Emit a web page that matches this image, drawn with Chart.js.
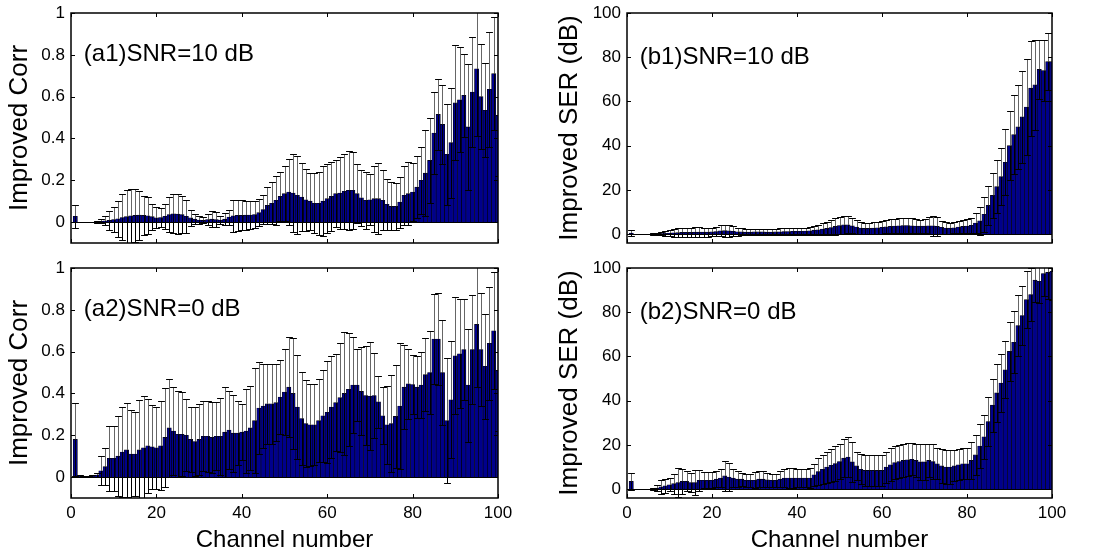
<!DOCTYPE html>
<html>
<head>
<meta charset="utf-8">
<script src="https://cdn.jsdelivr.net/npm/chart.js@4.4.1/dist/chart.umd.min.js"></script>
<style>
  html, body { margin: 0; padding: 0; background: #fff; }
  #wrap { position: relative; width: 1098px; height: 555px; }
  canvas { position: absolute; }
</style>
</head>
<body>
<div id="wrap">
  <canvas id="a1" width="549" height="250" style="left:0;top:0"></canvas>
  <canvas id="b1" width="549" height="250" style="left:549px;top:0"></canvas>
  <canvas id="a2" width="549" height="300" style="left:0;top:255px"></canvas>
  <canvas id="b2" width="549" height="300" style="left:549px;top:255px"></canvas>
</div>
<script>
// channel numbers 1..100 (categories)
const channels = Array.from({ length: 100 }, (_, i) => i + 1);
const xTicks = [0, 20, 40, 60, 80, 100];
const corrTicks = [0, 0.2, 0.4, 0.6, 0.8, 1];
const serTicks = [0, 20, 40, 60, 80, 100];

// (a1) improved Corr, SNR = 10 dB : mean and std per channel
const corr10Mean = [
  0.028, 0, 0, 0, 0, 0.002, 0.004, 0.006, 0.008, 0.012,
  0.016, 0.022, 0.026, 0.03, 0.032, 0.033, 0.032, 0.03, 0.026, 0.02,
  0.022, 0.028, 0.036, 0.04, 0.038, 0.036, 0.028, 0.02, 0.014, 0.01,
  0.008, 0.012, 0.014, 0.012, 0.01, 0.014, 0.024, 0.03, 0.032, 0.032,
  0.033, 0.034, 0.036, 0.045, 0.06, 0.08, 0.09, 0.104, 0.123, 0.136,
  0.144, 0.139, 0.128, 0.12, 0.107, 0.1, 0.09, 0.09, 0.1, 0.112,
  0.123, 0.136, 0.139, 0.147, 0.152, 0.152, 0.136, 0.116, 0.104, 0.107,
  0.112, 0.112, 0.104, 0.085, 0.075, 0.075, 0.096, 0.128, 0.136, 0.144,
  0.167, 0.2, 0.234, 0.295, 0.426, 0.515, 0.467, 0.324, 0.38, 0.57,
  0.585, 0.606, 0.455, 0.622, 0.733, 0.6, 0.535, 0.635, 0.71, 0.51
];
const corr10Std = [
  0.055, 0, 0, 0, 0, 0.004, 0.01, 0.022, 0.045, 0.06,
  0.087, 0.11, 0.128, 0.128, 0.125, 0.118, 0.092, 0.088, 0.062, 0.05,
  0.046, 0.06, 0.085, 0.094, 0.094, 0.09, 0.08, 0.04, 0.024, 0.018,
  0.014, 0.028, 0.038, 0.034, 0.02, 0.028, 0.036, 0.075, 0.076, 0.072,
  0.07, 0.066, 0.064, 0.066, 0.07, 0.087, 0.1, 0.116, 0.117, 0.13,
  0.156, 0.188, 0.186, 0.162, 0.148, 0.136, 0.144, 0.15, 0.166, 0.164,
  0.164, 0.159, 0.171, 0.18, 0.188, 0.183, 0.14, 0.134, 0.136, 0.121,
  0.158, 0.17, 0.143, 0.122, 0.115, 0.112, 0.122, 0.142, 0.151, 0.138,
  0.147, 0.16, 0.206, 0.205, 0.196, 0.171, 0.187, 0.242, 0.263, 0.275,
  0.252, 0.2, 0.3, 0.263, 0.32, 0.25, 0.225, 0.275, 0.27, 0.29
];

// (a2) improved Corr, SNR = 0 dB
const corr0Mean = [
  0.18, 0.005, 0.002, 0.003, 0.005, 0.01, 0.03, 0.05, 0.09, 0.09,
  0.1, 0.12, 0.13, 0.11, 0.11, 0.13, 0.14, 0.15, 0.145, 0.14,
  0.15, 0.19, 0.235, 0.22, 0.205, 0.205, 0.2, 0.18, 0.17, 0.18,
  0.195, 0.195, 0.19, 0.195, 0.195, 0.215, 0.225, 0.21, 0.21, 0.215,
  0.22, 0.235, 0.27, 0.33, 0.34, 0.35, 0.35, 0.356, 0.383, 0.407,
  0.43, 0.4, 0.335, 0.28, 0.256, 0.25, 0.25, 0.27, 0.293, 0.31,
  0.335, 0.356, 0.38, 0.4, 0.42, 0.44, 0.44, 0.41, 0.39, 0.387,
  0.39, 0.36, 0.293, 0.25, 0.256, 0.29, 0.34, 0.43, 0.446, 0.443,
  0.43, 0.44, 0.49, 0.5, 0.66, 0.66, 0.5, 0.27, 0.37, 0.58,
  0.59, 0.61, 0.44, 0.61, 0.73, 0.61, 0.53, 0.64, 0.7, 0.51
];
const corr0Std = [
  0.175, 0.003, 0.002, 0.003, 0.005, 0.008, 0.07, 0.09, 0.155, 0.155,
  0.19, 0.215, 0.225, 0.21, 0.2, 0.24, 0.247, 0.225, 0.202, 0.195,
  0.213, 0.235, 0.235, 0.21, 0.205, 0.2, 0.173, 0.155, 0.165, 0.17,
  0.168, 0.171, 0.17, 0.163, 0.185, 0.215, 0.185, 0.185, 0.153, 0.135,
  0.2, 0.2, 0.25, 0.22, 0.2, 0.19, 0.19, 0.184, 0.177, 0.207,
  0.238, 0.265, 0.25, 0.223, 0.206, 0.196, 0.193, 0.2, 0.221, 0.244,
  0.243, 0.233, 0.26, 0.296, 0.27, 0.23, 0.174, 0.21, 0.235, 0.257,
  0.203, 0.123, 0.137, 0.188, 0.234, 0.248, 0.3, 0.2, 0.168, 0.139,
  0.148, 0.157, 0.175, 0.2, 0.215, 0.22, 0.25, 0.3, 0.28, 0.28,
  0.26, 0.24, 0.27, 0.26, 0.3, 0.27, 0.25, 0.27, 0.28, 0.29
];

// (b1) improved SER (dB), SNR = 10 dB
const ser10Mean = [
  0.5, 0, 0, 0, 0, 0.1, 0.2, 0.3, 0.4, 0.5,
  0.6, 0.7, 0.8, 0.8, 0.8, 0.9, 0.9, 0.9, 0.9, 1,
  1.2, 1.5, 1.6, 1.5, 1.3, 1.1, 1, 0.9, 0.9, 1,
  1, 1, 0.9, 0.9, 1, 1.1, 1.2, 1.2, 1.3, 1.3,
  1.3, 1.4, 1.5, 1.8, 2, 2.3, 2.6, 3, 3.5, 3.9,
  4.2, 4.2, 3.8, 3.2, 2.8, 2.6, 2.6, 2.7, 2.9, 3.1,
  3.3, 3.5, 3.7, 3.8, 3.9, 3.9, 3.8, 3.7, 3.6, 3.6,
  3.8, 3.8, 3.5, 3.1, 2.8, 2.7, 2.9, 3.2, 3.5, 3.7,
  4, 5, 6, 9, 13, 17.5, 21.5, 26, 32.5, 40,
  45, 48.5, 53, 57.5, 66, 67.5, 74.5, 74, 78, 78
];
const ser10Std = [
  1.5, 0, 0, 0, 0, 0.3, 0.5, 0.8, 1.2, 1.5,
  1.8, 2, 2.1, 2.2, 2.2, 2.2, 2.2, 2.1, 2, 2,
  2.2, 2.5, 2.7, 2.6, 2.2, 1.8, 1.6, 1.4, 1.3, 1.4,
  1.5, 1.4, 1.3, 1.3, 1.4, 1.5, 1.6, 1.6, 1.7, 1.6,
  1.5, 1.6, 1.8, 2, 2.3, 2.6, 3, 3.3, 3.7, 3.9,
  4, 3.8, 3.5, 3, 2.6, 2.5, 2.5, 2.6, 2.7, 2.9,
  3, 3.2, 3.3, 3.4, 3.5, 3.4, 3.3, 3.1, 3, 3.1,
  3.8, 4.5, 4.3, 3, 2.6, 2.5, 2.6, 2.8, 3, 3.2,
  3.5, 4.5, 6.5, 8, 9, 10, 12, 13, 15, 15.5,
  18, 19, 21, 21.5, 21.5, 20.5, 13.5, 14, 13, 13
];

// (b2) improved SER (dB), SNR = 0 dB
const ser0Mean = [
  3.5, 0, 0, 0, 0, 0.2, 0.5, 1, 1.5, 2,
  2.5, 3, 3.5, 3.5, 3, 3, 4, 4, 4, 4,
  4.5, 5, 6, 5.5, 5, 4.5, 4.5, 4, 4, 4,
  4.5, 4.5, 4.2, 4, 4, 4.5, 5, 5, 5, 5,
  5, 5, 5, 6.5, 8, 9, 10, 10.8, 11.6, 12.5,
  14, 14.5, 12.3, 10.5, 9, 8.5, 8.5, 8.5, 8.5, 8.5,
  10, 11, 12, 12.5, 13, 13.3, 13.5, 13, 12.3, 12.3,
  13, 12.5, 11.5, 10.5, 10, 10, 10.5, 11, 11.5, 11.5,
  13, 15.5, 19.5, 23.7, 30.6, 38, 43.5, 48, 54, 62.3,
  66.4, 74, 78.5, 85.7, 88, 94.5, 94, 97.5, 98, 98.5
];
const ser0Std = [
  3.8, 0, 0, 0, 0, 0.5, 1.5, 3, 3.2, 3,
  4.5, 6.5, 5.5, 4.5, 4.5, 5.5, 4.8, 3.7, 3.7, 3.7,
  3.5, 4.2, 6.7, 6.3, 4, 3.5, 3, 3, 3, 3.7,
  3.5, 3.5, 3.2, 2.8, 2.8, 3.5, 4, 4.5, 4.5, 4,
  4, 4, 4.5, 5, 6, 6.5, 7, 7.5, 8, 8,
  8.5, 9, 9, 6.5, 6.7, 7, 7, 7, 7, 7,
  7, 7.5, 7.5, 7.5, 7.5, 7.4, 7.2, 7.5, 8, 8,
  7.5, 8, 7, 7.5, 7.5, 7.5, 7, 7, 7, 7,
  8.5, 9, 10, 10, 11, 12, 13, 13, 13, 13.5,
  14, 14, 13.5, 13, 12, 10, 10, 10, 12, 13
];

const barBlue = 'rgb(0, 0, 140)';
const capHalf = 0.8;   // half cap width, in channel units
const tickLen = 4;

Chart.defaults.font.family = '"Liberation Sans", Arial, Helvetica, sans-serif';
Chart.defaults.color = '#000';

// error bars, zero baseline, axis box, inward ticks and panel tag
const errorFrame = {
  id: 'errorFrame',
  afterDatasetsDraw(chart, args, opts) {
    const { ctx, chartArea: a, scales: { x, y } } = chart;
    ctx.save();
    ctx.beginPath();
    ctx.rect(a.left, a.top, a.right - a.left, a.bottom - a.top);
    ctx.clip();

    // baseline
    const y0 = Math.round(y.getPixelForValue(0)) + 0.5;
    ctx.strokeStyle = '#000';
    ctx.lineWidth = 1;
    ctx.beginPath();
    ctx.moveTo(a.left, y0);
    ctx.lineTo(a.right, y0);
    ctx.stroke();

    opts.means.forEach((m, i) => {
      const s = opts.errs[i];
      if (!s) return;
      const c = channels[i];
      const px = Math.round(x.getPixelForValue(c)) + 0.5;
      const top = y.getPixelForValue(m);
      const hi = Math.round(y.getPixelForValue(m + s)) + 0.5;
      const lo = Math.round(y.getPixelForValue(m - s)) + 0.5;
      const w = x.getPixelForValue(c + capHalf) - x.getPixelForValue(c);
      // upper half above the bar is grey, the part over the bar is black
      ctx.strokeStyle = '#666';
      ctx.beginPath();
      ctx.moveTo(px, hi);
      ctx.lineTo(px, top);
      ctx.stroke();
      ctx.strokeStyle = '#000';
      ctx.beginPath();
      ctx.moveTo(px, top);
      ctx.lineTo(px, lo);
      ctx.moveTo(px - w, hi);
      ctx.lineTo(px + w, hi);
      ctx.moveTo(px - w, lo);
      ctx.lineTo(px + w, lo);
      ctx.stroke();
    });
    ctx.restore();

    // box
    ctx.save();
    ctx.strokeStyle = '#000';
    ctx.lineWidth = 1.5;
    ctx.strokeRect(a.left, a.top, a.right - a.left, a.bottom - a.top);
    ctx.lineWidth = 1;
    ctx.beginPath();
    xTicks.forEach(v => {
      const px = Math.round(x.getPixelForValue(v)) + 0.5;
      ctx.moveTo(px, a.bottom);
      ctx.lineTo(px, a.bottom - tickLen);
      ctx.moveTo(px, a.top);
      ctx.lineTo(px, a.top + tickLen);
    });
    opts.yTicks.forEach(v => {
      const py = Math.round(y.getPixelForValue(v)) + 0.5;
      ctx.moveTo(a.left, py);
      ctx.lineTo(a.left + tickLen, py);
      ctx.moveTo(a.right, py);
      ctx.lineTo(a.right - tickLen, py);
    });
    ctx.stroke();

    // panel tag
    ctx.fillStyle = '#000';
    ctx.font = '24px "Liberation Sans", Arial, sans-serif';
    ctx.textAlign = 'left';
    ctx.textBaseline = 'middle';
    ctx.fillText(opts.tag, x.getPixelForValue(3), y.getPixelForValue(opts.tagY));
    ctx.restore();
  }
};

function noPad(s) {
  s.paddingTop = 0;
  s.paddingBottom = 0;
  s.paddingLeft = 0;
  s.paddingRight = 0;
}

function makePanel(id, p) {
  new Chart(document.getElementById(id), {
    type: 'bar',
    data: {
      datasets: [{
        data: channels.map((c, i) => ({ x: c, y: p.means[i] })),
        backgroundColor: barBlue,
        borderColor: '#000',
        borderWidth: 0.6,
        barPercentage: 1,
        categoryPercentage: 1
      }]
    },
    options: {
      responsive: false,
      animation: false,
      devicePixelRatio: 1,
      layout: { padding: { top: 13, right: p.padRight, left: 0, bottom: 0 } },
      plugins: {
        legend: { display: false },
        tooltip: { enabled: false },
        errorFrame: { means: p.means, errs: p.errs, yTicks: p.yTicks, tag: p.tag, tagY: p.tagY }
      },
      scales: {
        x: {
          type: 'linear',
          min: 0,
          max: 100,
          offset: false,
          grid: { display: false, drawTicks: false },
          border: { display: false },
          afterBuildTicks: s => { s.ticks = xTicks.map(v => ({ value: v })); },
          afterFit: s => { s.height = p.xHeight; noPad(s); },
          ticks: {
            display: p.showX,
            padding: 5,
            autoSkip: false,
            maxRotation: 0,
            font: { size: 17 },
            callback: v => String(v)
          },
          title: {
            display: p.showX,
            text: 'Channel number',
            font: { size: 24 },
            padding: { top: 0, bottom: 0 }
          }
        },
        y: {
          type: 'linear',
          min: p.yMin,
          max: p.yMax,
          grid: { display: false, drawTicks: false },
          border: { display: false },
          afterBuildTicks: s => { s.ticks = p.yTicks.map(v => ({ value: v })); },
          afterFit: s => { s.width = p.yWidth; noPad(s); },
          ticks: { padding: 6, font: { size: 17 }, callback: v => String(v) },
          title: {
            display: true,
            text: p.yLabel,
            font: { size: 26 },
            padding: { top: p.titlePad, bottom: 0 }
          }
        }
      }
    },
    plugins: [errorFrame]
  });
}

makePanel('a1', {
  means: corr10Mean, errs: corr10Std, yMin: -0.1, yMax: 1, yTicks: corrTicks,
  yLabel: 'Improved Corr', tag: '(a1)SNR=10 dB', tagY: 0.8,
  yWidth: 71, padRight: 51, xHeight: 7, showX: false, titlePad: 4
});
makePanel('b1', {
  means: ser10Mean, errs: ser10Std, yMin: -4, yMax: 100, yTicks: serTicks,
  yLabel: 'Improved SER (dB)', tag: '(b1)SNR=10 dB', tagY: 80,
  yWidth: 78, padRight: 46, xHeight: 7, showX: false, titlePad: 5
});
makePanel('a2', {
  means: corr0Mean, errs: corr0Std, yMin: -0.1, yMax: 1, yTicks: corrTicks,
  yLabel: 'Improved Corr', tag: '(a2)SNR=0 dB', tagY: 0.8,
  yWidth: 71, padRight: 51, xHeight: 57, showX: true, titlePad: 4
});
makePanel('b2', {
  means: ser0Mean, errs: ser0Std, yMin: -4, yMax: 100, yTicks: serTicks,
  yLabel: 'Improved SER (dB)', tag: '(b2)SNR=0 dB', tagY: 80,
  yWidth: 78, padRight: 46, xHeight: 57, showX: true, titlePad: 5
});
</script>
</body>
</html>
